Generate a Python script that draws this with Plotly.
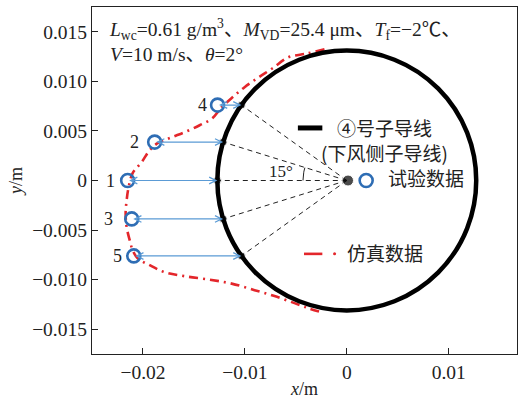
import numpy as np
import plotly.graph_objects as go

# ---------------- data ----------------
exp_id = ["1", "2", "3", "4", "5"]
exp_x = [-0.02150, -0.01885, -0.02110, -0.01268, -0.02090]
probe_angle_deg = [0.0, 17.2, -17.2, 35.5, -35.5]   # probe points on the wire
wire_rx = 0.0127
wire_ry = 0.0131

sim_x = [-0.00219, -0.00395, -0.00572, -0.00728, -0.00864, -0.01003, -0.01121,
         -0.01228, -0.01319, -0.01444, -0.01591, -0.01719, -0.01856, -0.01934,
         -0.02013, -0.02101, -0.02141, -0.02160, -0.02170, -0.02160, -0.02130,
         -0.02101, -0.02052, -0.01934, -0.01787, -0.01591, -0.01346, -0.01130,
         -0.00905, -0.00709, -0.00513, -0.00366, -0.00248]
sim_y = [0.01324, 0.01280, 0.01243, 0.01132, 0.01041, 0.00941, 0.00840,
         0.00739, 0.00628, 0.00557, 0.00487, 0.00436, 0.00376, 0.00306,
         0.00185, 0.00074, -0.00068, -0.00199, -0.00330, -0.00471, -0.00602,
         -0.00703, -0.00784, -0.00854, -0.00925, -0.00965, -0.01000, -0.01040,
         -0.01106, -0.01166, -0.01237, -0.01292, -0.01328]

x_tickvals = [-0.02, -0.01, 0, 0.01]
x_ticktext = ["−0.02", "−0.01", "0", "0.01"]
y_tickvals = [0.015, 0.010, 0.005, 0, -0.005, -0.010, -0.015]
y_ticktext = ["0.015", "0.010", "0.005", "0", "−0.005", "−0.010", "−0.015"]

label_shift = [-11, -14, -17, -9, -10]

# ---------------- styles ----------------
SERIF = "Liberation Serif, Times New Roman, Noto Sans CJK SC"
CJK = "Noto Sans CJK SC, Liberation Serif"
RED = "#e3262b"
BLUE_M = "#2e6db4"
BLUE_A = "#5b9bd5"

ang = np.radians(probe_angle_deg)
dot_x = list(-wire_rx * np.cos(ang))
dot_y = list(wire_ry * np.sin(ang))

fig = go.Figure()

# dashed radial lines
for dx, dy in zip(dot_x, dot_y):
    fig.add_trace(go.Scatter(x=[0, dx], y=[0, dy], mode="lines",
                             line=dict(color="#222", width=1, dash="5px,4px"),
                             showlegend=False, hoverinfo="skip"))

# simulated ice shape
fig.add_trace(go.Scatter(x=sim_x, y=sim_y, mode="lines",
                         line=dict(color=RED, width=2.6, dash="9px,5px,2px,5px", shape="spline"),
                         showlegend=False))

# 15 degree arc
arc_t = np.radians(np.linspace(180, 163, 12))
fig.add_trace(go.Scatter(x=list(0.0043 * np.cos(arc_t)), y=list(0.00444 * np.sin(arc_t)),
                         mode="lines", line=dict(color="#222", width=1),
                         showlegend=False, hoverinfo="skip"))

# probe dots and centre
fig.add_trace(go.Scatter(x=dot_x + [0.00012], y=dot_y + [0], mode="markers",
                         marker=dict(color="black", size=[8, 8, 8, 8, 8, 11]),
                         showlegend=False))

# experiment markers
fig.add_trace(go.Scatter(x=exp_x, y=dot_y, mode="markers",
                         marker=dict(symbol="circle-open", size=13, color=BLUE_M,
                                     line=dict(width=2.6, color=BLUE_M)),
                         showlegend=False))

# legend keys (manual)
fig.add_trace(go.Scatter(x=[0.0019], y=[0], mode="markers",
                         marker=dict(symbol="circle-open", size=13, color=BLUE_M,
                                     line=dict(width=2.6, color=BLUE_M)),
                         showlegend=False))
fig.add_trace(go.Scatter(x=[-0.0048, -0.0024], y=[0.0053, 0.0053], mode="lines",
                         line=dict(color="black", width=5), showlegend=False))
fig.add_trace(go.Scatter(x=[-0.0042, -0.0024], y=[-0.0074, -0.0074], mode="lines",
                         line=dict(color=RED, width=2.6), showlegend=False))
fig.add_trace(go.Scatter(x=[-0.0012], y=[-0.0074], mode="markers",
                         marker=dict(color=RED, size=3), showlegend=False))

# wire circle
fig.add_shape(type="circle", xref="x", yref="y",
              x0=-wire_rx, x1=wire_rx, y0=-wire_ry, y1=wire_ry,
              line=dict(color="black", width=4.5), layer="above")

# arrows
for ex, dx, dy in zip(exp_x, dot_x, dot_y):
    fig.add_annotation(x=dx, y=dy, ax=ex, ay=dy, xref="x", yref="y", axref="x", ayref="y",
                       text="", showarrow=True, arrowhead=5, startarrowhead=5,
                       arrowside="end+start", arrowsize=1.1, startarrowsize=1.1,
                       arrowwidth=1.2, arrowcolor=BLUE_A, standoff=0, startstandoff=0)

# point labels
for lab, ex, dy, sh in zip(exp_id, exp_x, dot_y, label_shift):
    fig.add_annotation(x=ex, y=dy, xref="x", yref="y", text=lab, showarrow=False,
                       xanchor="right", xshift=sh, font=dict(family=SERIF, size=18, color="#222"))

# other texts
DEG_C = '<span style="font-family:Noto Sans CJK SC">℃</span>'
fig.add_annotation(x=-0.0235, y=0.0171, xref="x", yref="y", xanchor="left", yanchor="top",
                   align="left", showarrow=False,
                   text=("<i>L</i><sub>wc</sub>=0.61 g/m<sup>3</sup>、<i>M</i><sub>VD</sub>=25.4 μm、"
                         "<i>T</i><sub>f</sub>=−2" + DEG_C + "、<br><i>V</i>=10 m/s、<i>θ</i>=2°"),
                   font=dict(family=SERIF, size=19.5, color="#222"))
fig.add_annotation(x=-0.0012, y=0.0053, xref="x", yref="y", xanchor="left", showarrow=False,
                   text="④号子导线", font=dict(family=CJK, size=19, color="#222"))
fig.add_annotation(x=0.0037, y=0.0028, xref="x", yref="y", xanchor="center", showarrow=False,
                   text="(下风侧子导线)", font=dict(family=CJK, size=19, color="#222"))
fig.add_annotation(x=0.0038, y=0.0003, xref="x", yref="y", xanchor="left", showarrow=False,
                   text="试验数据", font=dict(family=CJK, size=19, color="#222"))
fig.add_annotation(x=-0.0002, y=-0.0073, xref="x", yref="y", xanchor="left", showarrow=False,
                   text="仿真数据", font=dict(family=CJK, size=19, color="#222"))
fig.add_annotation(x=-0.0065, y=0.0009, xref="x", yref="y", xanchor="center", showarrow=False,
                   text="15°", font=dict(family=SERIF, size=17, color="#222"))

axis_common = dict(showgrid=False, zeroline=False, showline=True, linecolor="#222",
                   linewidth=1.2, mirror=True, ticks="inside", ticklen=6, tickwidth=1.2,
                   tickcolor="#222", automargin=False,
                   tickfont=dict(family=SERIF, size=19.5, color="#222"))

fig.update_layout(
    width=525, height=403,
    margin=dict(l=92, r=8, t=7, b=49),
    paper_bgcolor="white", plot_bgcolor="white",
    xaxis=dict(range=[-0.025, 0.0167], tickvals=x_tickvals, ticktext=x_ticktext,
               title=dict(text="<i>x</i>/m", font=dict(family=SERIF, size=18, color="#222"), standoff=0),
               **axis_common),
    yaxis=dict(range=[-0.0175, 0.0175], tickvals=y_tickvals, ticktext=y_ticktext,
               title=dict(text="<i>y</i>/m", font=dict(family=SERIF, size=18, color="#222"), standoff=4),
               **axis_common),
)

fig.write_html("out.html", config={"displayModeBar": False},
               post_script="document.body.style.margin='0';document.body.style.padding='0';")
